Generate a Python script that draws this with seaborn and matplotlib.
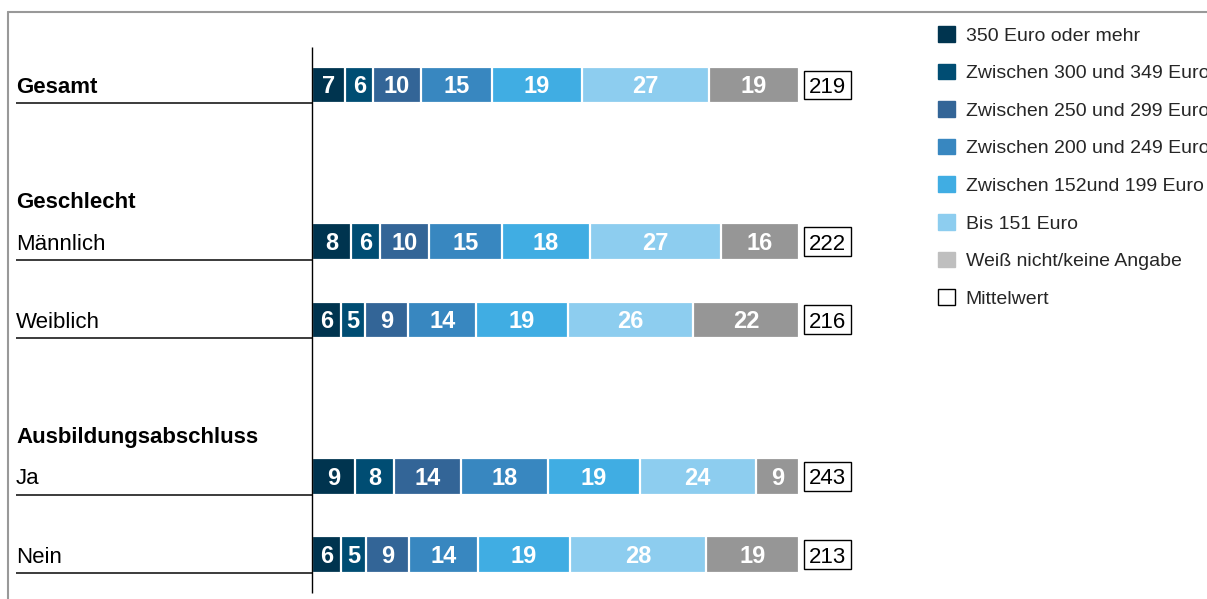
import matplotlib
matplotlib.use('Agg')
import matplotlib.pyplot as plt
import matplotlib.transforms as mtransforms
from matplotlib.patches import Patch, Rectangle
from matplotlib.lines import Line2D
import seaborn as sns
import pandas as pd

sns.set_theme(style='white')
plt.rcParams['font.family'] = ['Liberation Sans', 'DejaVu Sans']

# --- data -------------------------------------------------------------
categories = ['350 Euro oder mehr', 'Zwischen 300 und 349 Euro',
              'Zwischen 250 und 299 Euro', 'Zwischen 200 und 249 Euro',
              'Zwischen 152und 199 Euro', 'Bis 151 Euro',
              'Weiß nicht/keine Angabe']
groups = ['Gesamt', 'Männlich', 'Weiblich', 'Ja', 'Nein']
gesamt = [7, 6, 10, 15, 19, 27, 19]
maennlich = [8, 6, 10, 15, 18, 27, 16]
weiblich = [6, 5, 9, 14, 19, 26, 22]
ja = [9, 8, 14, 18, 19, 24, 9]
nein = [6, 5, 9, 14, 19, 28, 19]
mittelwert = [219, 222, 216, 243, 213]
headers = {'Männlich': 'Geschlecht', 'Ja': 'Ausbildungsabschluss'}

# --- styles / layout --------------------------------------------------
bar_colors = ['#00344f', '#004d73', '#336597', '#3887c0',
              '#40ade3', '#8dcdef', '#969696']
legend_colors = bar_colors[:-1] + ['#bfbfbf']
slots = [0, 2, 3, 5, 6]
W, H = 1207, 599
x0, x1 = 312, 799          # pixel span of the bars
y0, unit = 85, 78.3        # pixel centre of first row, pixels per slot
bar_h = 0.469


def px2x(px):
    return (px - x0) / (x1 - x0) * 100


rows = []
for g, s, vals in zip(groups, slots, [gesamt, maennlich, weiblich, ja, nein]):
    total = sum(vals)
    cum = 0.0
    for c, v in zip(categories, vals):
        share = v / total * 100
        rows.append(dict(group=g, slot=float(s), category=c, value=v,
                         start=cum, end=cum + share))
        cum += share
df = pd.DataFrame(rows)

fig = plt.figure(figsize=(W / 100, H / 100), dpi=100)
fig.patch.set_facecolor('white')
ax = fig.add_axes([x0 / W, 0, (x1 - x0) / W, 1])

# stacked bars: draw cumulative ends from longest to shortest
for c, col in reversed(list(zip(categories, bar_colors))):
    sub = df[df.category == c]
    sns.barplot(data=sub, x='end', y='slot', orient='y', native_scale=True,
                width=bar_h, color=col, saturation=1, edgecolor='white',
                linewidth=1.6, errorbar=None, ax=ax)

ax.set_xlim(0, 100)
ax.set_ylim((H - y0) / unit, -y0 / unit)
ax.axis('off')


def ctext(x, y, s, size, transform=None, **kw):
    base = transform if transform is not None else ax.transData
    tr = mtransforms.offset_copy(base, fig=fig, y=-0.358 * size, units='points')
    ax.text(x, y, s, fontsize=size, va='baseline', transform=tr,
            clip_on=False, **kw)


for _, r in df.iterrows():
    ctext((r.start + r.end) / 2, r.slot, str(r.value), 17,
          ha='center', color='white', fontweight='bold')

# mean boxes
bx, bw, bh = px2x(804), px2x(851) - px2x(804), 0.37
for s, m in zip(slots, mittelwert):
    ax.add_patch(Rectangle((bx, s - bh / 2), bw, bh, facecolor='white',
                           edgecolor='black', lw=1, clip_on=False))
    ctext(bx + bw / 2, s, str(m), 16, ha='center', color='black')

# row labels, headers and underlines
lx = px2x(16)
for g, s in zip(groups, slots):
    ctext(lx, s, g, 16, ha='left', color='black',
          fontweight='bold' if g == 'Gesamt' else 'normal')
    ax.hlines(s + bar_h / 2, lx, 0, colors='#1a1a1a', lw=1.2, clip_on=False)
    if g in headers:
        ctext(lx, s - 0.535, headers[g], 16, ha='left', color='black',
              fontweight='bold')

ax.vlines(0, (47 - y0) / unit, (593 - y0) / unit, colors='black', lw=1,
          zorder=5, clip_on=False)

# frame lines of the figure
fig.add_artist(Line2D([8 / W, 1], [1 - 12 / H, 1 - 12 / H], color='#999999', lw=1.5))
fig.add_artist(Line2D([8 / W, 8 / W], [0, 1 - 12 / H], color='#999999', lw=1.5))

# legend
handles = [Patch(facecolor=c, edgecolor=c) for c in legend_colors]
handles.append(Patch(facecolor='white', edgecolor='black', lw=1))
fig.legend(handles, categories + ['Mittelwert'], loc='upper left',
           bbox_to_anchor=(938 / W, 1 - 26 / H), frameon=False, fontsize=14,
           handlelength=0.875, handleheight=0.86, handletextpad=0.55,
           labelspacing=0.98, borderpad=0, borderaxespad=0)

fig.savefig('out.png', dpi=100, facecolor='white')
